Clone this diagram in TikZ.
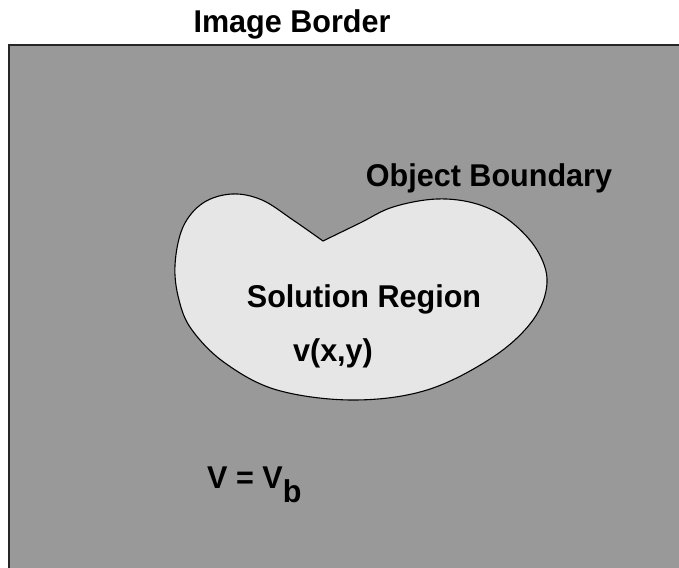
\documentclass[tikz,border=0pt]{standalone}
\usepackage{fontspec}
\setmainfont{Liberation Sans}[FakeStretch=0.97]
\definecolor{bggray}{HTML}{999999}
\definecolor{blobfill}{HTML}{E6E6E6}
\definecolor{edgegray}{HTML}{262626}
\begin{document}
\begin{tikzpicture}[x=1pt,y=-1pt,
  lbl/.style={inner sep=0pt, anchor=base, font=\fontsize{31.5}{36}\selectfont\bfseries, text=black}]
\useasboundingbox (0,0) rectangle (679,567);
\clip (0,0) rectangle (679,567);
\fill[white] (0,0) rectangle (679,567);
\draw[fill=bggray, draw=edgegray, line width=2pt] (9,45) rectangle (700,600);
\draw[fill=blobfill, draw=black, line width=1.1pt]
  plot[smooth, tension=0.6] coordinates {(323,241) (293,220) (262,200) (232,194) (203,203) (183,227) (175,265) (179,300) (192,330) (225,363) (277,390) (353,400) (427,390) (493,357) (533,320) (547,283) (537,250) (510,221) (477,204) (437,199) (393,207) (360,223) (323,241)} -- cycle;
\node[lbl] (title) at (292,33) {Image Border};
\node[lbl] (obj) at (489,186) {Object Boundary};
\node[lbl] (sol) at (364,307) {Solution Region};
\node[lbl] (vxy) at (333,361) {v(x,y)};
\node[lbl, anchor=base west] (vb) at (207,488) {V = V\raisebox{-14pt}{b}};
\end{tikzpicture}
\end{document}
